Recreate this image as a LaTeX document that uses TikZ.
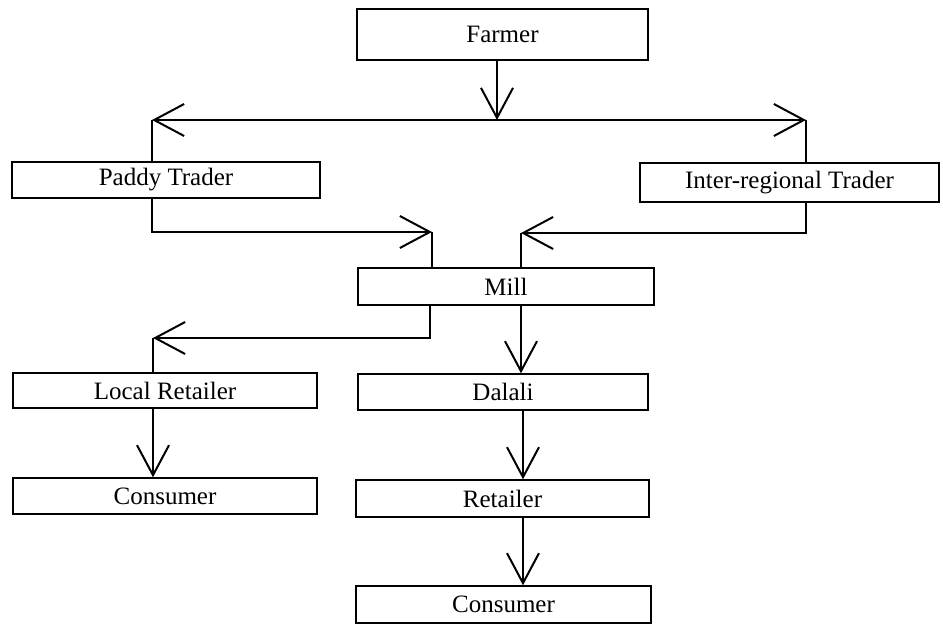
\documentclass[tikz,border=0pt]{standalone}
\usepackage{fontspec}
\setmainfont{Liberation Serif}
\usetikzlibrary{arrows.meta}
\usetikzlibrary{calc}

\begin{document}
\begin{tikzpicture}[x=1pt,y=-1pt,line width=1.4pt,
	>/.tip={Straight Barb[length=30pt,width=32pt,line width=2pt]},
	box/.style={draw,inner sep=0pt,minimum height=36pt,font=\fontsize{25}{29}\selectfont}]
	\useasboundingbox (0,0) rectangle (943,628);

	\draw (502.5,34.5) node (farmer) [box,minimum width=291pt,minimum height=51pt] {Farmer};
	\draw (166,180) node (paddy) [box,minimum width=308pt] {Paddy Trader};
	\draw (789.5,182.5) node (inter) [box,minimum width=299pt,minimum height=39pt] {Inter-regional Trader};
	\draw (506,286.5) node (mill) [box,minimum width=296pt,minimum height=37pt] {Mill};
	\draw (165,390.5) node (local) [box,minimum width=304pt,minimum height=35pt] {Local Retailer};
	\draw (503,392) node (dalali) [box,minimum width=290pt] {Dalali};
	\draw (165,496) node (conleft) [box,minimum width=304pt] {Consumer};
	\draw (502.5,498.5) node (retailer) [box,minimum width=293pt,minimum height=37pt] {Retailer};
	\draw (503.5,604.5) node (conmid) [box,minimum width=295pt,minimum height=37pt] {Consumer};

	\coordinate (split) at (497,120);
	\coordinate (toPaddy) at (152,120);
	\coordinate (toInter) at (806,120);
	\coordinate (millL) at (432,232);
	\coordinate (millR) at (521,233);
	\coordinate (outL) at (430,338);
	\coordinate (toLocal) at (153,338);

	\draw[->] (farmer.south -| split) -- (split);
	\draw[->] (split) -- (toPaddy);
	\draw (toPaddy) -- (toPaddy |- paddy.north);
	\draw[->] (split) -- (toInter);
	\draw (toInter) -- (toInter |- inter.north);

	\draw[->] (toPaddy |- paddy.south) |- (millL);
	\draw (millL) -- (millL |- mill.north);
	\draw[->] (toInter |- inter.south) |- (millR);
	\draw (millR) -- (millR |- mill.north);

	\draw[->] (outL |- mill.south) |- (toLocal);
	\draw (toLocal) -- (toLocal |- local.north);
	\draw[->] (toLocal |- local.south) -- (toLocal |- conleft.north);

	\draw[->] (millR |- mill.south) -- (millR |- dalali.north);
	\draw[->] ($(dalali.south)+(20,0)$) -- ($(retailer.north)+(20.5,0)$);
	\draw[->] ($(retailer.south)+(20.5,0)$) -- ($(conmid.north)+(19.5,0)$);
\end{tikzpicture}
\end{document}
